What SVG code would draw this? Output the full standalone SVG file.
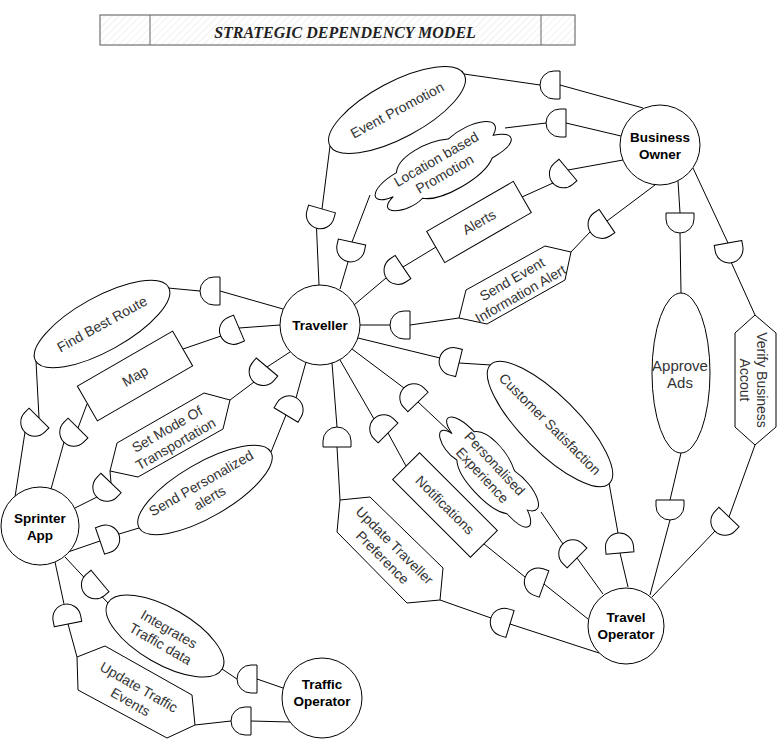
<svg xmlns="http://www.w3.org/2000/svg" width="777" height="750" viewBox="0 0 777 750">
<style>
.ln{fill:none;stroke:#000;stroke-width:1}
.nd{fill:#fff;stroke:#000;stroke-width:1}
.dm{fill:#fff;stroke:#000;stroke-width:1}
.ac{font-family:"Liberation Sans",Arial,sans-serif;font-size:13.5px;font-weight:bold;fill:#000;text-anchor:middle}
.tx{font-family:"Liberation Sans",Arial,sans-serif;font-size:14px;fill:#333;text-anchor:middle}
.ttl{font-family:"Liberation Serif","Times New Roman",serif;font-size:16px;font-style:italic;font-weight:bold;fill:#222;text-anchor:middle}
</style>
<defs>
<path id="dd" d="M-14,0 H14 V-6 A14,14 0 0 0 -14,-6 Z"/>
<pattern id="hatch" patternUnits="userSpaceOnUse" width="5" height="5" patternTransform="rotate(45)">
<rect width="5" height="5" fill="#fff"/>
<line x1="0" y1="0" x2="0" y2="5" stroke="#e4e4e4" stroke-width="1"/>
</pattern>
</defs>
<rect width="777" height="750" fill="#fff"/>

<g id="title">
<rect x="100" y="15" width="475" height="30" fill="url(#hatch)" stroke="#555" stroke-width="1"/>
<line x1="150" y1="15" x2="150" y2="45" stroke="#666"/>
<line x1="541" y1="15" x2="541" y2="45" stroke="#666"/>
<text class="ttl" x="345" y="38">STRATEGIC DEPENDENCY MODEL</text>
</g>

<g id="connectors">
<polyline class="ln" points="319,285 316.5,228 322,209 330,146"/>
<polyline class="ln" points="464,74 540,85 560,85 643,108"/>
<polyline class="ln" points="340,289 348,262 352,242 370,195"/>
<polyline class="ln" points="505,128 546,123 566,123 621,136"/>
<polyline class="ln" points="354,305 386,278 403,267 436,247"/>
<polyline class="ln" points="522,197 553,183 568,170 623,160"/>
<polyline class="ln" points="360,325 390,325 410,325 459,318"/>
<polyline class="ln" points="571,252 590,232 607,221 655,185"/>
<polyline class="ln" points="678,181 680,213 680,233 681,293"/>
<polyline class="ln" points="681,453 670,500 670,520 650,595"/>
<polyline class="ln" points="693,168 728,243 731.5,263 755,315"/>
<polyline class="ln" points="755,445 729,517 715,531 652,597"/>
<polyline class="ln" points="358,338 440,358 459,363 491,365"/>
<polyline class="ln" points="609,483 618,533 620,553 628,587"/>
<polyline class="ln" points="352,349 404,388 418,402 450,432"/>
<polyline class="ln" points="541,512 563,544 577,558 603,594"/>
<polyline class="ln" points="340,360 374,419 388,433 406,466"/>
<polyline class="ln" points="484,544 525,577 544,584 588,619"/>
<polyline class="ln" points="332,363 337,427 337,447 340,500"/>
<polyline class="ln" points="440,600 491,618 510,624 599,653"/>
<polyline class="ln" points="283,309 220,291 200,291 168,288"/>
<polyline class="ln" points="36,361 39,418 25,432 15,497"/>
<polyline class="ln" points="280,325 239,328 221,336 183,349"/>
<polyline class="ln" points="87,404 78,428 64,442 51,489"/>
<polyline class="ln" points="290,352 267,367 254,382 230,400"/>
<polyline class="ln" points="110,471 111,483 97,497 75,508"/>
<polyline class="ln" points="306,362 296,398 286,415 271,452"/>
<polyline class="ln" points="139,528 119,534 100,541 68,552"/>
<polyline class="ln" points="65,557 108,603"/>
<polyline class="ln" points="222,669 237,679 257,679 283,688"/>
<polyline class="ln" points="55,562 64,604 68,624 77,657"/>
<polyline class="ln" points="195,725 231,721 251,721 290,722"/>

<use href="#dd" class="dm" transform="translate(322,209) rotate(196)"/>
<use href="#dd" class="dm" transform="translate(352,242) rotate(192)"/>
<use href="#dd" class="dm" transform="translate(403,267) rotate(236)"/>
<use href="#dd" class="dm" transform="translate(560,85) rotate(270)"/>
<use href="#dd" class="dm" transform="translate(566,123) rotate(270)"/>
<use href="#dd" class="dm" transform="translate(568,170) rotate(230)"/>
<use href="#dd" class="dm" transform="translate(410,325) rotate(270)"/>
<use href="#dd" class="dm" transform="translate(607,221) rotate(236)"/>
<use href="#dd" class="dm" transform="translate(680,213) rotate(180)"/>
<use href="#dd" class="dm" transform="translate(670,500) rotate(180)"/>
<use href="#dd" class="dm" transform="translate(728,243) rotate(170)"/>
<use href="#dd" class="dm" transform="translate(729,517) rotate(224)"/>
<use href="#dd" class="dm" transform="translate(459,363) rotate(284)"/>
<use href="#dd" class="dm" transform="translate(620,553) rotate(355)"/>
<use href="#dd" class="dm" transform="translate(418,402) rotate(316)"/>
<use href="#dd" class="dm" transform="translate(577,558) rotate(315)"/>
<use href="#dd" class="dm" transform="translate(388,433) rotate(315)"/>
<use href="#dd" class="dm" transform="translate(544,584) rotate(290)"/>
<use href="#dd" class="dm" transform="translate(337,447) rotate(0)"/>
<use href="#dd" class="dm" transform="translate(510,624) rotate(287)"/>
<use href="#dd" class="dm" transform="translate(220,291) rotate(270)"/>
<use href="#dd" class="dm" transform="translate(39,418) rotate(225)"/>
<use href="#dd" class="dm" transform="translate(239,328) rotate(247)"/>
<use href="#dd" class="dm" transform="translate(78,428) rotate(225)"/>
<use href="#dd" class="dm" transform="translate(267,367) rotate(220)"/>
<use href="#dd" class="dm" transform="translate(111,483) rotate(224)"/>
<use href="#dd" class="dm" transform="translate(286,415) rotate(31)"/>
<use href="#dd" class="dm" transform="translate(100,541) rotate(71)"/>
<use href="#dd" class="dm" transform="translate(100,581) rotate(230)"/>
<use href="#dd" class="dm" transform="translate(257,679) rotate(270)"/>
<use href="#dd" class="dm" transform="translate(68,624) rotate(349)"/>
<use href="#dd" class="dm" transform="translate(251,721) rotate(270)"/>
</g>

<g id="business-owner">
<circle class="nd" cx="660" cy="145" r="40"/>
<text class="ac" x="660" y="142">Business</text>
<text class="ac" x="660" y="159">Owner</text>
</g>
<g id="traveller">
<circle class="nd" cx="320" cy="325" r="40"/>
<text class="ac" x="320" y="330">Traveller</text>
</g>
<g id="sprinter-app">
<circle class="nd" cx="40" cy="526" r="39"/>
<text class="ac" x="40" y="523">Sprinter</text>
<text class="ac" x="40" y="540">App</text>
</g>
<g id="travel-operator">
<circle class="nd" cx="626" cy="626" r="38"/>
<text class="ac" x="626" y="622">Travel</text>
<text class="ac" x="626" y="639">Operator</text>
</g>
<g id="traffic-operator">
<circle class="nd" cx="322" cy="698" r="40"/>
<text class="ac" x="322" y="689">Traffic</text>
<text class="ac" x="322" y="706">Operator</text>
</g>

<g id="event-promotion" transform="translate(397,110) rotate(-28)">
<ellipse class="nd" cx="0" cy="0" rx="76" ry="28"/>
<text class="tx" x="0" y="5">Event Promotion</text>
</g>
<g id="location-based-promotion" transform="translate(440,166) rotate(-30)">
<path class="nd" d="M-41,-16 C-73.8,-16 -82,0 -55.8,3.2 C-82,10.2 -52.5,25.6 -31.2,19.2 C-16.4,32 32.8,32 49.2,19.2 C82,19.2 82,6.4 61.5,0 C82,-12.8 49.2,-25.6 20.5,-19.2 C0,-28.8 -32.8,-28.8 -41,-16 Z"/>
<text class="tx"><tspan x="0" y="-3">Location based</tspan><tspan x="0" y="14">Promotion</tspan></text>
</g>
<g id="alerts" transform="translate(479,222) rotate(-30)">
<rect class="nd" x="-50" y="-18" width="100" height="36"/>
<text class="tx" x="0" y="5">Alerts</text>
</g>
<g id="send-event-information-alert">
<polygon class="nd" points="545,246 571,252 565,280 487,324 459,318 466,290"/>
<text class="tx" transform="translate(516,286) rotate(-30)"><tspan x="0" y="-3">Send Event</tspan><tspan x="0" y="14">Information Alert</tspan></text>
</g>
<g id="approve-ads">
<ellipse class="nd" cx="681" cy="373" rx="29" ry="80"/>
<text class="tx" style="font-size:15px"><tspan x="680" y="371">Approve</tspan><tspan x="680" y="388">Ads</tspan></text>
</g>
<g id="verify-business-accout">
<polygon class="nd" points="755,315 776,333 776,427 755,445 735,427 735,333"/>
<text class="tx" transform="translate(754,380) rotate(90)"><tspan x="0" y="-3">Verify Business</tspan><tspan x="0" y="14">Accout</tspan></text>
</g>
<g id="customer-satisfaction" transform="translate(550,424) rotate(45)">
<ellipse class="nd" cx="0" cy="0" rx="84" ry="28"/>
<text class="tx" x="0" y="5">Customer Satisfaction</text>
</g>
<g id="personalised-experience" transform="translate(489,469) rotate(47)">
<path class="nd" d="M-37.5,-14.5 C-67.5,-14.5 -75,0 -51,2.9 C-75,9.3 -48,23.2 -28.5,17.4 C-15,29 30,29 45,17.4 C75,17.4 75,5.8 56.25,0 C75,-11.6 45,-23.2 18.75,-17.4 C0,-26.1 -30,-26.1 -37.5,-14.5 Z"/>
<text class="tx"><tspan x="0" y="-3">Personalised</tspan><tspan x="0" y="14">Experience</tspan></text>
</g>
<g id="notifications" transform="translate(445,505) rotate(45)">
<rect class="nd" x="-55" y="-19" width="110" height="38"/>
<text class="tx" x="0" y="5">Notifications</text>
</g>
<g id="update-traveller-preference">
<polygon class="nd" points="340,500 370,497 443,568 440,600 407,603 337,532"/>
<text class="tx" transform="translate(389,551) rotate(45)"><tspan x="0" y="-3">Update Traveller</tspan><tspan x="0" y="14">Preference</tspan></text>
</g>
<g id="find-best-route" transform="translate(102,324) rotate(-29)">
<ellipse class="nd" cx="0" cy="0" rx="76" ry="27"/>
<text class="tx" x="0" y="5">Find Best Route</text>
</g>
<g id="map" transform="translate(135,376) rotate(-30)">
<rect class="nd" x="-55" y="-20" width="110" height="40"/>
<text class="tx" x="0" y="5">Map</text>
</g>
<g id="set-mode-of-transportation">
<polygon class="nd" points="204,393 230,400 223,429 138,477 110,471 117,443"/>
<text class="tx" transform="translate(171,436) rotate(-30)"><tspan x="0" y="-3">Set Mode Of</tspan><tspan x="0" y="14">Transportation</tspan></text>
</g>
<g id="send-personalized-alerts" transform="translate(205,490) rotate(-30)">
<ellipse class="nd" cx="0" cy="0" rx="76" ry="27"/>
<text class="tx"><tspan x="0" y="-3">Send Personalized</tspan><tspan x="0" y="14">alerts</tspan></text>
</g>
<g id="integrates-traffic-data" transform="translate(165,636) rotate(30)">
<ellipse class="nd" cx="0" cy="0" rx="66" ry="28"/>
<text class="tx"><tspan x="0" y="-3">Integrates</tspan><tspan x="0" y="14">Traffic data</tspan></text>
</g>
<g id="update-traffic-events">
<polygon class="nd" points="77,657 105,646 192,695 195,725 167,738 78,690"/>
<text class="tx" transform="translate(135,694) rotate(30)"><tspan x="0" y="-3">Update Traffic</tspan><tspan x="0" y="14">Events</tspan></text>
</g>
</svg>
